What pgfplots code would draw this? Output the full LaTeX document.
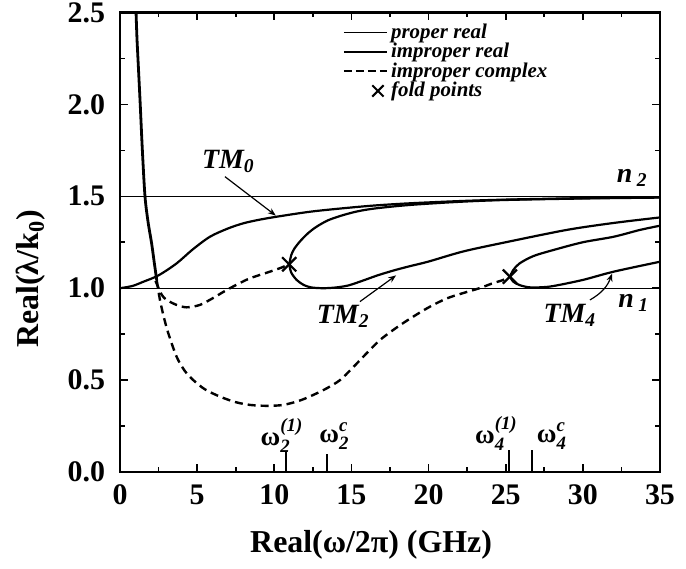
\documentclass[border=0pt]{standalone}
\usepackage{pgfplots}
\pgfplotsset{compat=1.18}
\usepackage{fontspec}
\usepackage{amsmath}
\setmainfont{Liberation Serif}
\usetikzlibrary{arrows.meta}

\newcommand{\om}[2]{$\text{ω}^{\text{\itshape #1}}_{\text{\itshape #2}}$}

\begin{document}
\begin{tikzpicture}
\begin{axis}[
    scale only axis, width=270bp, height=229.75bp,
    xmin=0, xmax=35, ymin=0, ymax=2.5,
    xtick={0,5,...,35}, ytick={0,0.5,...,2.5},
    minor x tick num=1, minor y tick num=1,
    tick align=inside,
    major tick length=4bp, minor tick length=2.5bp,
    every tick/.style={black, line width=0.8bp},
    axis line style={line width=1.2bp},
    /pgf/number format/assume math mode=true,
    ticklabel style={font=\fontsize{15}{17}\selectfont\bfseries},
    x tick label style={yshift=-3bp},
    y tick label style={xshift=-4bp, /pgf/number format/.cd, fixed, fixed zerofill, precision=1, /tikz/.cd},
    label style={font=\fontsize{16}{18}\selectfont\bfseries},
    xlabel={Real(ω/2π) (GHz)},
    ylabel={Real(λ/k\textsubscript{0})},
    xlabel style={at={(axis description cs:0.465,-0.159)}, anchor=center},
    ylabel style={at={(axis description cs:-0.165,0.42)}, anchor=center},
    legend style={at={(axis cs:14.03,2.48)}, anchor=north west, draw=none, fill=none,
        font=\fontsize{10.5}{12}\selectfont\bfseries\itshape,
        row sep=-2bp, nodes={inner sep=1.5bp}},
    legend cell align=left,
]
% legend
\addlegendimage{legend image code/.code={\draw[line width=0.7bp] (0cm,0cm) -- (0.76cm,0cm);}}
\addlegendentry{proper real}
\addlegendimage{legend image code/.code={\draw[line width=1.1bp] (0cm,0cm) -- (0.76cm,0cm);}}
\addlegendentry{improper real}
\addlegendimage{legend image code/.code={\draw[line width=1.1bp, dash pattern=on 4bp off 2bp] (0cm,0cm) -- (0.76cm,0cm);}}
\addlegendentry{improper complex}
\addlegendimage{legend image code/.code={\draw[line width=1bp] plot[mark=x, mark size=4bp] coordinates {(0.6cm,0cm)};}}
\addlegendentry{fold points}

% n1, n2 lines
\addplot[forget plot, line width=0.7bp] coordinates {(0,1) (35,1)};
\addplot[forget plot, line width=0.7bp] coordinates {(0,1.5) (35,1.5)};

% steep improper real branch
\addplot[forget plot, line width=1.4bp, smooth] coordinates {
  (1.04,2.5) (1.10,2.36) (1.17,2.24) (1.30,2.02) (1.45,1.75) (1.62,1.50)
  (1.82,1.36) (2.05,1.244) (2.22,1.14) (2.38,1.045)};
% improper complex, large loop
\addplot[forget plot, line width=1.2bp, smooth, dash pattern=on 4bp off 2.5bp] coordinates {
  (2.38,1.045) (2.59,0.936) (2.85,0.84) (3.13,0.755) (3.67,0.627) (4.2,0.55)
  (4.75,0.50) (5.5,0.45) (6.48,0.41) (7.5,0.38) (8.43,0.365) (9.5,0.36)
  (10.58,0.365) (11.7,0.39) (12.75,0.428) (13.5,0.46) (14.26,0.50) (15.0,0.56)
  (15.8,0.63) (16.85,0.718) (18,0.79) (19.0,0.845) (20.1,0.90) (21.2,0.945)
  (22.3,0.975) (23.3,1.0) (24.1,1.025) (24.84,1.045) (25.27,1.063)};
% improper complex, small dip
\addplot[forget plot, line width=1.2bp, smooth, dash pattern=on 4bp off 2.5bp] coordinates {
  (2.3,1.04) (2.7,0.965) (3.03,0.936) (3.67,0.909) (4.32,0.896) (5.18,0.909)
  (6.0,0.945) (6.91,0.99) (7.7,1.025) (8.43,1.054) (9.72,1.09) (10.4,1.11) (10.97,1.13)};
% TM0
\addplot[forget plot, line width=1.1bp, smooth] coordinates {
  (0,1.0) (0.8,1.012) (1.51,1.035) (2.5,1.07) (3.67,1.135) (4.7,1.21) (5.83,1.28)
  (7.0,1.325) (7.99,1.353) (9.0,1.372) (10.16,1.389) (12.31,1.416) (14.47,1.435)
  (16.5,1.45) (18.8,1.462) (22,1.474) (25,1.482) (30,1.49) (35,1.495)};
% TM2 upper
\addplot[forget plot, line width=1.1bp, smooth] coordinates {
  (10.97,1.13) (11.1,1.18) (11.3,1.215) (11.67,1.255) (12.2,1.30) (12.75,1.335)
  (13.5,1.37) (14.47,1.398) (15.5,1.42) (16.64,1.435) (18.8,1.453) (22,1.47)
  (25,1.48) (30,1.488) (35,1.493)};
% TM2 lower
\addplot[forget plot, line width=1.1bp, smooth] coordinates {
  (10.97,1.13) (11.1,1.085) (11.45,1.045) (11.9,1.018) (12.4,1.004) (13.2,1.0)
  (14.0,1.004) (14.8,1.015) (15.7,1.04) (16.7,1.07) (17.8,1.098) (18.8,1.12)
  (20,1.145) (22.25,1.2) (25,1.25) (28.95,1.317) (32,1.355) (35,1.385)};
% TM4 upper
\addplot[forget plot, line width=1.1bp, smooth] coordinates {
  (25.27,1.063) (25.5,1.10) (25.9,1.135) (26.8,1.175) (28.1,1.208) (30,1.25)
  (32.0,1.28) (33.7,1.317) (35,1.34)};
% TM4 lower
\addplot[forget plot, line width=1.1bp, smooth] coordinates {
  (25.27,1.063) (25.5,1.035) (25.9,1.017) (26.5,1.005) (27.3,1.005) (28.1,1.012)
  (30,1.045) (32.0,1.09) (35,1.144)};
% fold points
\addplot[forget plot, only marks, mark=x, mark size=5bp, line width=1.1bp] coordinates {
  (10.97,1.13) (25.27,1.063)};
% cutoff markers
\addplot[forget plot, ycomb, line width=1bp] coordinates {
  (10.76,0.11) (13.4,0.10) (25.2,0.12) (26.7,0.12)};

% annotations
\tikzset{lab/.style={font=\fontsize{14}{16}\selectfont\bfseries\itshape, inner sep=0pt},
         oml/.style={font=\fontsize{13.5}{15}\selectfont\bfseries, inner sep=0pt}}
\node[lab] at (axis cs:7.02,1.688) {TM\textsubscript{0}};
\draw[-{Stealth[length=4bp,width=3bp]}, line width=0.6bp] (axis cs:6.8,1.607) -- (axis cs:10.1,1.395);
\node[lab] at (axis cs:14.47,0.845) {TM\textsubscript{2}};
\draw[-{Stealth[length=4bp,width=3bp]}, line width=0.6bp] (axis cs:15.55,0.927) -- (axis cs:17.9,1.07);
\node[lab] at (axis cs:29.16,0.854) {TM\textsubscript{4}};
\draw[-{Stealth[length=4bp,width=3bp]}, line width=0.6bp] (axis cs:30.46,0.936) to[bend right=20] (axis cs:31.9,1.08);
\node[lab] at (axis cs:33.2,1.6) {n\,\textsubscript{2}};
\node[lab] at (axis cs:33.3,0.92) {n\,\textsubscript{1}};
\node[oml] at (axis cs:10.5,0.2) {\om{(1)}{2}};
\node[oml] at (axis cs:13.9,0.195) {\om{c}{2}};
\node[oml] at (axis cs:24.4,0.21) {\om{(1)}{4}};
\node[oml] at (axis cs:28.0,0.195) {\om{c}{4}};
\end{axis}
\pgfresetboundingbox
\path[use as bounding box] ([xshift=-60bp,yshift=-48.5bp]current axis.south west)
    rectangle ([xshift=13bp,yshift=6.25bp]current axis.north east);
\end{tikzpicture}
\end{document}
